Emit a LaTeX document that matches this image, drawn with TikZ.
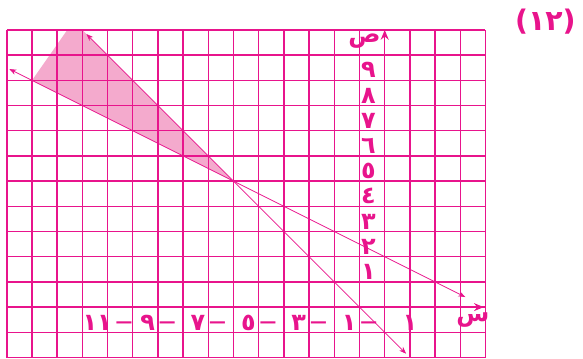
\documentclass[tikz,border=0pt]{standalone}
\usepackage{fontspec}
\usetikzlibrary{arrows.meta}
\newfontfamily\arabicfont[Script=Arabic]{DejaVu Sans}
\definecolor{grafmag}{RGB}{232,20,140}
\definecolor{grafpink}{RGB}{244,170,205}
\newcommand{\pomlcka}{\raisebox{3.5pt}{\fontsize{19}{20}\selectfont —}}
\tikzset{
  gridline/.style={grafmag, line width=1.6pt},
  primka/.style={grafmag, line width=0.8pt, {Stealth[length=8pt,width=6pt]}-{Stealth[length=8pt,width=6pt]}},
  osa/.style={grafmag, line width=1.6pt, -{Stealth[length=11pt,width=9pt]}},
  popisek/.style={text=grafmag, font=\arabicfont\bfseries\fontsize{27}{30}\selectfont, inner sep=0pt},
}
\begin{document}
\begin{tikzpicture}
        \useasboundingbox (-15.27,-2.05) rectangle (7.87,12.19);

        % Body
        \coordinate (P) at (-6,5);
        \coordinate (A1) at (-14.9,9.45);
        \coordinate (A2) at (3.2,0.4);
        \coordinate (B1) at (-11.84,10.84);
        \coordinate (B2) at (0.85,-1.85);

        % Vyšrafovaná oblast
        \fill[grafpink] (P) -- (-14,9) -- (-12.6,11) -- (-12,11) -- cycle;

        % Mřížka
        \draw[gridline] (-15,-2) grid (4,11);

        % Osy
        \coordinate (Xtip) at (3.93,0);
        \coordinate (Ytip) at (0,11);
        \draw[osa] (3,0) -- (Xtip);
        \draw[osa] (0,10) -- (Ytip);
        \node[popisek] (xlab) at (3.5,-0.5) {س};
        \node[popisek] (ylab) at (-0.8,10.55) {ص};

        % Přímky
        \draw[primka] (A1) -- (A2);
        \draw[primka] (B1) -- (B2);

        % Popisky na ose y
        \foreach \k/\t in {1/١,2/٢,3/٣,4/٤,5/٥,6/٦,7/٧,8/٨,9/٩}
            \node[popisek] (y\k) at (-0.65,\k+0.4) {\t};

        % Popisky na ose x
        \foreach \k/\t in {11/١١,9/٩,7/٧,5/٥,3/٣,1/١}
            \node[popisek] (x\k) at (-\k,-0.62) {\t\,\pomlcka};
        \node[popisek] (xp1) at (1,-0.62) {١};

        % Číslo úlohy
        \node[popisek, font=\arabicfont\bfseries\fontsize{32}{36}\selectfont] (cislo) at (6.38,11.33) {(١٢)};
    \end{tikzpicture}
\end{document}
